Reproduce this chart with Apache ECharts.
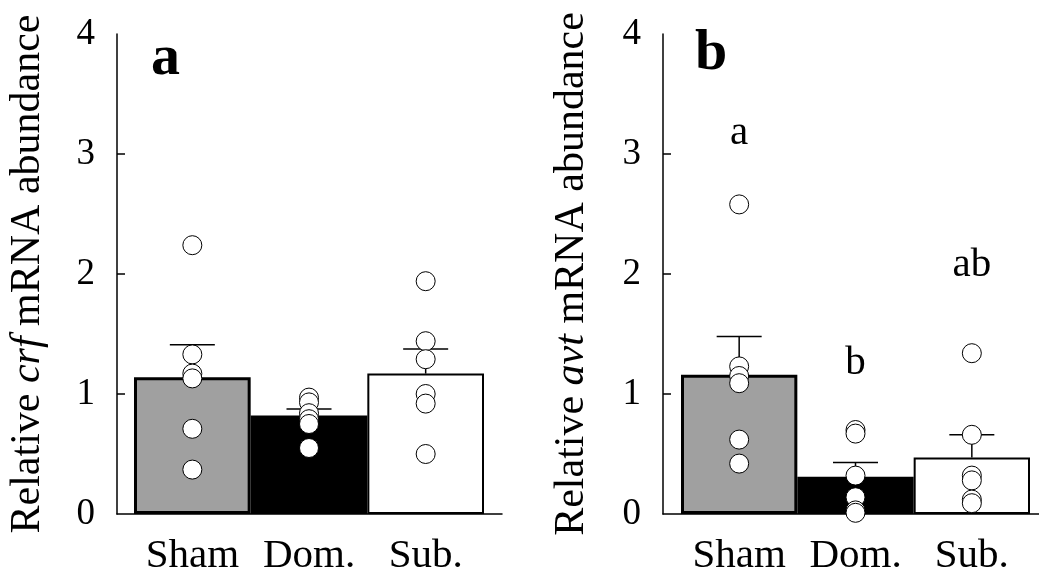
<!DOCTYPE html>
<html>
<head>
<meta charset="utf-8">
<script src="https://cdn.jsdelivr.net/npm/echarts@6/dist/echarts.min.js"></script>
<style>
html,body{margin:0;padding:0;background:#fff;}
#chart{width:1039px;height:579px;}
</style>
</head>
<body>
<div id="chart"></div>
<script>
// ---- data ----
const categories = ['Sham', 'Dom.', 'Sub.'];
const yTickValues = [0, 1, 2, 3, 4];

// panel a : crf
const crfMean = [1.14, 0.82, 1.17];
const crfSE = [0.27, 0.055, 0.205];
const crfSham = [2.24, 1.33, 1.17, 1.13, 0.71, 0.37];
const crfDom = [0.97, 0.93, 0.84, 0.79, 0.75, 0.55];
const crfSub = [1.94, 1.44, 1.29, 1.00, 0.92, 0.50];

// panel b : avt
const avtMean = [1.16, 0.31, 0.47];
const avtSE = [0.32, 0.12, 0.19];
const avtSham = [2.58, 1.23, 1.15, 1.09, 0.62, 0.42];
const avtDom = [0.70, 0.67, 0.32, 0.14, 0.03, 0.01];
const avtSub = [1.34, 0.66, 0.32, 0.28, 0.12, 0.09];

// significance letters (panel b) and the value at which each is written
const avtLetters = ['a', 'b', 'ab'];
const avtLetterY = [3.17, 1.26, 2.07];

// ---- styles ----
const FONT = '"Liberation Serif", "Times New Roman", serif';
const barFill = ['#a0a0a0', '#000000', '#ffffff'];
const barBorder = [3, 0, 2];

const chart = echarts.init(document.getElementById('chart'), null, {renderer: 'canvas'});

const grids = [], xAxes = [], yAxes = [], series = [];

function addPanel(p) {
  const frameIdx = grids.length;
  grids.push({left: p.frameLeft, width: p.frameWidth, top: 34, height: 480, outerBoundsMode: 'none'});
  const barIdx = grids.length;
  grids.push({left: p.barLeft, width: p.barWidth, top: 34, height: 480, outerBoundsMode: 'none'});

  // frame axes
  xAxes.push({gridIndex: frameIdx, type: 'value', min: 0, max: 1,
    axisLine: {show: true, onZero: false, lineStyle: {color: '#000', width: 1.5}},
    axisTick: {show: false}, axisLabel: {show: false}, splitLine: {show: false}});
  yAxes.push({gridIndex: frameIdx, type: 'value', min: yTickValues[0], max: yTickValues[yTickValues.length - 1], interval: 1,
    axisLine: {show: true, lineStyle: {color: '#000', width: 1.5}},
    axisTick: {show: true, inside: true, length: 8, lineStyle: {color: '#000', width: 1.5},
      customValues: yTickValues.slice(1, -1)},
    axisLabel: {show: true, margin: 22, fontFamily: FONT, fontSize: 37, color: '#000',
      customValues: yTickValues},
    splitLine: {show: false},
    name: '{n|Relative }{i|' + p.gene + '}{n| mRNA abundance}',
    nameLocation: 'middle', nameRotate: 90, nameGap: p.nameGap,
    nameTextStyle: {fontFamily: FONT, fontSize: 42, color: '#000',
      rich: {n: {fontFamily: FONT, fontSize: 42, color: '#000'},
             i: {fontFamily: FONT, fontSize: 42, fontStyle: 'italic', color: '#000'}}}
  });

  // bar axes
  const xBar = xAxes.length;
  xAxes.push({gridIndex: barIdx, type: 'category', data: categories, boundaryGap: true,
    axisLine: {show: false}, axisTick: {show: false},
    axisLabel: {show: true, interval: 0, hideOverlap: false, margin: 22,
      fontFamily: FONT, fontSize: 41, color: '#000'}});
  const yBar = yAxes.length;
  yAxes.push({gridIndex: barIdx, type: 'value', min: 0, max: 4, show: false});

  series.push({type: 'bar', xAxisIndex: xBar, yAxisIndex: yBar, barWidth: '100%', barCategoryGap: '0%',
    silent: true, z: 2,
    data: p.mean.map((v, i) => ({value: v,
      itemStyle: {color: barFill[i], borderColor: '#000', borderWidth: barBorder[i]}}))});

  series.push({type: 'custom', xAxisIndex: xBar, yAxisIndex: yBar, silent: true, z: 3,
    encode: {x: 0, y: [1, 2]},
    data: p.mean.map((m, i) => [i, m, m + p.se[i]]),
    renderItem: function (params, api) {
      const x = api.value(0), m = api.value(1), t = api.value(2);
      const a = api.coord([x, m]), b = api.coord([x, t]);
      return {type: 'group', children: [
        {type: 'line', shape: {x1: a[0], y1: a[1], x2: b[0], y2: b[1]}, style: {stroke: '#000', lineWidth: 1.5}},
        {type: 'line', shape: {x1: b[0] - 22.5, y1: b[1], x2: b[0] + 22.5, y2: b[1]}, style: {stroke: '#000', lineWidth: 1.5}}
      ]};
    }});

  const pts = [];
  p.points.forEach((arr, i) => arr.forEach(v => pts.push([i, v])));
  series.push({type: 'scatter', xAxisIndex: xBar, yAxisIndex: yBar, silent: true, z: 4,
    symbol: 'circle', symbolSize: 19,
    itemStyle: {color: '#fff', borderColor: '#000', borderWidth: 1, opacity: 1},
    data: pts});

  if (p.letters) {
    series.push({type: 'scatter', xAxisIndex: xBar, yAxisIndex: yBar, silent: true, z: 5,
      symbolSize: 1, itemStyle: {color: 'transparent'},
      label: {show: true, position: 'inside', formatter: d => p.letters[d.dataIndex],
        fontFamily: FONT, fontSize: 41, color: '#000', textBorderWidth: 0, opacity: 1},
      data: p.letterY.map((v, i) => [i, v])});
  }
}

addPanel({frameLeft: 117, frameWidth: 385, barLeft: 134, barWidth: 350, gene: 'crf', nameGap: 68,
  mean: crfMean, se: crfSE, points: [crfSham, crfDom, crfSub]});
addPanel({frameLeft: 663, frameWidth: 376, barLeft: 681, barWidth: 349, gene: 'avt', nameGap: 70,
  mean: avtMean, se: avtSE, points: [avtSham, avtDom, avtSub],
  letters: avtLetters, letterY: avtLetterY});

chart.setOption({
  animation: false,
  backgroundColor: '#fff',
  grid: grids, xAxis: xAxes, yAxis: yAxes, series: series,
  graphic: [
    {type: 'text', left: 151, top: 30, style: {text: 'a', font: 'bold 58px ' + FONT, fill: '#000'}},
    {type: 'text', left: 695, top: 25, style: {text: 'b', font: 'bold 58px ' + FONT, fill: '#000'}}
  ]
});
</script>
</body>
</html>
